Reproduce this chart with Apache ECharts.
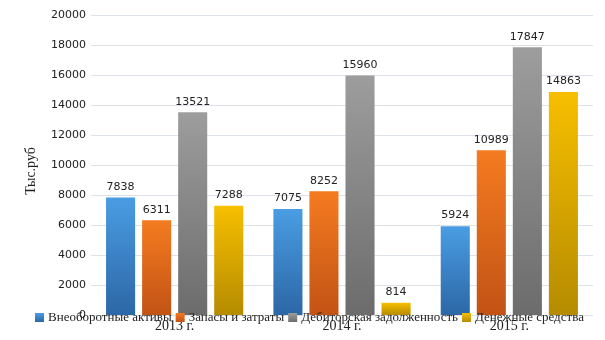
<!DOCTYPE html>
<html>
<head>
<meta charset="utf-8">
<script src="https://cdn.jsdelivr.net/npm/echarts@6/dist/echarts.min.js"></script>
<style>html,body{margin:0;padding:0;background:#fff}#c{width:605px;height:340px}</style>
</head>
<body>
<div id="c"></div>
<script>
const categories = ['2013 г.', '2014 г.', '2015 г.'];
const seriesNames = ['Внеоборотные активы', 'Запасы и затраты', 'Дебиторская задолженность', 'Денежные средства'];
const nonCurrentAssets = [7838, 7075, 5924];
const inventories = [6311, 8252, 10989];
const receivables = [13521, 15960, 17847];
const cash = [7288, 814, 14863];
const yTicks = { min: 0, max: 20000, interval: 2000 };
const yName = 'Тыс.руб';

const colorStops = [
  ['#4a9de3', '#2c67a6'],
  ['#f47b20', '#c25315'],
  ['#9d9d9d', '#6c6c6c'],
  ['#f7bf00', '#b58b00']
];
function grad(c) {
  return new echarts.graphic.LinearGradient(0, 0, 0, 1, [{offset: 0, color: c[0]}, {offset: 1, color: c[1]}]);
}
const values = [nonCurrentAssets, inventories, receivables, cash];
const chart = echarts.init(document.getElementById('c'));
chart.setOption({
  animation: false,
  backgroundColor: '#fff',
  grid: { left: 91, right: 12, top: 15, bottom: 25 },
  legend: {
    data: seriesNames,
    left: 30,
    top: 306,
    icon: 'rect',
    itemWidth: 9,
    itemHeight: 9,
    itemGap: 4,
    textStyle: { fontFamily: 'Liberation Serif', fontSize: 13, color: '#222', padding: [0, 0, 0, -1] }
  },
  xAxis: {
    type: 'category',
    data: categories,
    axisLine: { show: false },
    axisTick: { show: false },
    axisLabel: { fontFamily: 'Liberation Serif', fontSize: 14, color: '#222', margin: 4 }
  },
  yAxis: {
    type: 'value',
    min: yTicks.min, max: yTicks.max, interval: yTicks.interval,
    name: yName,
    nameLocation: 'middle',
    nameGap: 53,
    nameTextStyle: { fontFamily: 'Liberation Serif', fontSize: 14, color: '#222', padding: [0, 12, 0, 0] },
    axisLine: { show: false },
    axisTick: { show: false },
    axisLabel: { fontFamily: 'DejaVu Sans', fontSize: 11, color: '#222', margin: 5, formatter: v => String(v) },
    splitLine: { lineStyle: { color: '#dde2ea', width: 1 } }
  },
  series: seriesNames.map((n, i) => ({
    name: n,
    type: 'bar',
    data: values[i],
    barGap: '24%',
    barCategoryGap: '18%',
    itemStyle: { color: grad(colorStops[i]) },
    label: { show: true, position: 'top', distance: 5, fontFamily: 'DejaVu Sans', fontSize: 11, color: '#222', formatter: p => String(p.value) }
  }))
});
</script>
</body>
</html>
